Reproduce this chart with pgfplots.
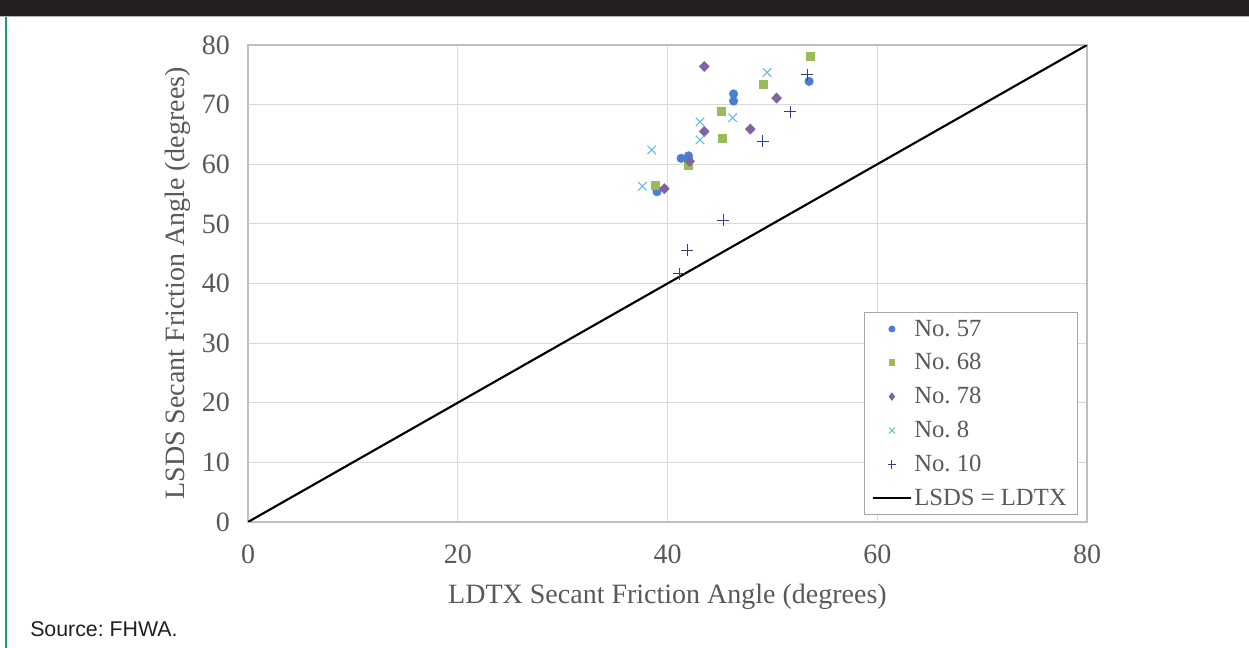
\documentclass[border=0pt]{standalone}
\usepackage{pgfplots}
\pgfplotsset{compat=1.18}
\usepackage{fontspec}
\setmainfont{Liberation Serif}
\newfontfamily\arialfont{Liberation Sans}
\definecolor{c57}{HTML}{4A7ED0}
\definecolor{c68}{HTML}{9BBB59}
\definecolor{c78}{HTML}{8064A2}
\definecolor{c8}{HTML}{62BCE0}
\definecolor{c10}{HTML}{34407A}
\definecolor{txtgray}{HTML}{595959}
\definecolor{gridgray}{HTML}{D9D9D9}
\definecolor{axgray}{HTML}{BFBFBF}
\definecolor{topbar}{HTML}{231F20}
\definecolor{framegreen}{HTML}{1B9E6E}
\frenchspacing
\begin{document}
\begin{tikzpicture}
\useasboundingbox (0,0) rectangle (936.75pt,486pt);
\fill[white] (0,0) rectangle (936.75pt,486pt);
\fill[topbar] (0,474pt) rectangle (936.75pt,486pt);
\draw[gray!60, line width=0.6pt] (0,473.4pt) -- (936.75pt,473.4pt);
\draw[framegreen, line width=1.1pt] (4.5pt,0) -- (4.5pt,473pt);
\node[anchor=west, font=\arialfont\fontsize{16}{19}\selectfont, text=topbar, inner sep=0pt] at (22.5pt,14.3pt) {Source: FHWA.};
\begin{axis}[
  at={(186pt,94.5pt)}, anchor=south west,
  scale only axis, width=629.25pt, height=357.75pt,
  xmin=0, xmax=80, ymin=0, ymax=80,
  xtick={0,20,40,60,80}, ytick={0,10,...,80},
  grid=major, major grid style={gridgray, line width=0.8pt},
  axis line style={axgray, line width=0.9pt},
  major tick length=0pt,
  /pgf/number format/assume math mode=true,
  tick label style={font=\fontsize{21}{24}\selectfont, text=txtgray},
  xticklabel style={yshift=-14pt},
  yticklabel style={xshift=-10pt},
  xlabel={LDTX Secant Friction Angle (degrees)},
  ylabel={LSDS Secant Friction Angle (degrees)},
  every axis x label/.style={at={(axis description cs:0.5,-0.157)}, anchor=center, font=\fontsize{21}{24}\selectfont, text=txtgray},
  every axis y label/.style={at={(axis description cs:-0.0834,0.5)}, rotate=90, anchor=center, font=\fontsize{21}{24}\selectfont, text=txtgray},
  legend style={at={(0.989,0.44)}, anchor=north east, draw=gray!70, line width=0.7pt,
    font=\fontsize{18.5}{22}\selectfont, text=txtgray, inner xsep=6pt, inner ysep=3.5pt,
    row sep=7.6pt, cells={anchor=west}},
  legend image code/.code={\draw[#1,mark repeat=2,mark phase=2,mark options={scale=0.7}] plot coordinates {(0pt,0pt)(14pt,0pt)(28pt,0pt)};},
]
\addplot[only marks, mark=*, mark size=3.2pt, c57, mark options={fill=c57, draw=c57}]
  coordinates {(53.5,73.9) (46.3,71.8) (46.3,70.6) (41.3,61.0) (42.0,61.4) (42.0,60.8) (39.0,55.4)};
\addlegendentry{No. 57}
\addplot[only marks, mark=square*, mark size=3pt, c68, mark options={fill=c68, draw=c68}]
  coordinates {(53.6,78.1) (49.1,73.4) (45.1,68.9) (45.2,64.3) (42.0,59.9) (38.8,56.5)};
\addlegendentry{No. 68}
\addplot[only marks, mark=diamond*, mark size=3.8pt, c78, mark options={fill=c78, draw=c78, xscale=1.3}]
  coordinates {(43.5,76.4) (50.4,71.1) (43.5,65.5) (47.9,65.9) (42.1,60.5) (39.7,55.9)};
\addlegendentry{No. 78}
\addplot[only marks, mark=x, mark size=4.5pt, c8, mark options={line width=0.8pt}]
  coordinates {(49.5,75.4) (46.2,67.8) (43.1,67.1) (43.1,64.1) (38.5,62.4) (37.6,56.3)};
\addlegendentry{No. 8}
\addplot[only marks, mark=+, mark size=4.5pt, c10, mark options={line width=0.7pt}]
  coordinates {(53.3,75.0) (51.7,68.8) (49.1,63.9) (45.3,50.6) (41.9,45.6) (41.1,41.6)};
\addlegendentry{No. 10}
\addplot[black, line width=1.6pt, no marks] coordinates {(0,0) (80,80)};
\addlegendentry{LSDS = LDTX}
\end{axis}
\end{tikzpicture}
\end{document}
